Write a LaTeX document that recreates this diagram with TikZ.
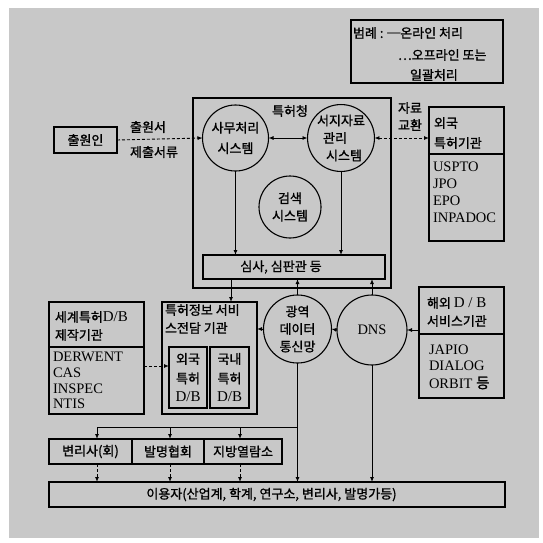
\documentclass[tikz,border=0pt]{standalone}
\usepackage{fontspec}
\setmainfont{Liberation Serif}
\newfontfamily\kr[FakeBold=1.2]{Noto Sans CJK KR}
\usetikzlibrary{arrows.meta,calc}
\definecolor{bgc}{RGB}{200,200,200}
\newcommand{\lat}[1]{{\rmfamily\fontsize{15}{17.5}\selectfont #1}}
\begin{document}
\begin{tikzpicture}[x=1pt,y=-1pt,
  every node/.style={inner sep=0pt,outer sep=0pt},
  box/.style={draw,line width=1.1pt,rectangle},
  circ/.style={draw,line width=1.1pt,circle},
  kt/.style={font=\kr\fontsize{13}{17.5}\selectfont},
  lt/.style={font=\fontsize{14.5}{17}\selectfont},
  link/.style={line width=0.9pt,-{Latex[length=5pt,width=4pt]}},
  dlink/.style={line width=0.9pt,dash pattern=on 3pt off 2pt,-{Latex[length=5pt,width=4pt]}},
  blink/.style={line width=0.9pt,{Latex[length=5pt,width=4pt]}-{Latex[length=5pt,width=4pt]}},
  bdlink/.style={line width=0.9pt,dash pattern=on 3pt off 2pt,{Latex[length=5pt,width=4pt]}-{Latex[length=5pt,width=4pt]}},
  ]
\useasboundingbox (0,0) rectangle (542,543);
\fill[bgc] (9,8) rectangle (539,538);

% legend
\node[box,minimum width=152,minimum height=63] (legend) at (427,51.5) {};
\node[kt,anchor=west] (lg1) at (353,33) {범례 : ─온라인 처리};
\node[kt,anchor=west] (lg2) at (398,55) {…오프라인 또는};
\node[kt,anchor=west] (lg3) at (410,75) {일괄처리};

% patent office
\node[box,minimum width=198,minimum height=190] (office) at (292,193) {};
\node[kt] (officelbl) at (290,111) {특허청};

\node[box,minimum width=63,minimum height=26,kt] (app) at (85.5,140) {출원인};

\node[circ,minimum size=66,kt,align=center] (sa) at (235.5,138) {사무처리\\[3pt]시스템};
\node[circ,minimum size=66,kt,align=left] (seoji) at (341,138) {서지자료\\\hspace*{6pt}관리\\\hspace*{9pt}시스템};
\node[circ,minimum size=62,kt,align=center] (search) at (290,207) {검색\\시스템};

\node[box,minimum width=182,minimum height=24] (exam) at (294,267) {};
\node[kt] (examt) at (281,267) {심사, 심판관 등};

% foreign patent offices
\node[box,minimum width=75,minimum height=47] (forA) at (466.5,130.5) {};
\node[box,minimum width=75,minimum height=87] (forB) at (466.5,197.5) {};
\node[kt,anchor=west] (forA1) at (434,123) {외국};
\node[kt,anchor=west] (forA2) at (434,143) {특허기관};
\node[lt,anchor=west] (forB1) at (433,167) {USPTO};
\node[lt,anchor=west] (forB2) at (433,184) {JPO};
\node[lt,anchor=west] (forB3) at (433,201) {EPO};
\node[lt,anchor=west] (forB4) at (433,218) {INPADOC};

% overseas DB services
\node[box,minimum width=85,minimum height=47] (ovA) at (461.5,310.5) {};
\node[box,minimum width=85,minimum height=64] (ovB) at (461.5,366) {};
\node[kt,anchor=west] (ovA1) at (427,303) {해외 \lat{D / B}};
\node[kt,anchor=west] (ovA2) at (427,321) {서비스기관};
\node[lt,anchor=west] (ovB1) at (429,350) {JAPIO};
\node[lt,anchor=west] (ovB2) at (429,366) {DIALOG};
\node[lt,anchor=west] (ovB3) at (429,383) {ORBIT {\kr 등}};

% world patent DB producers
\node[box,minimum width=95,minimum height=45] (wA) at (96.5,324.5) {};
\node[box,minimum width=95,minimum height=67] (wB) at (96.5,380.5) {};
\node[kt,anchor=west] (wA1) at (55,317) {세계특허\lat{D/B}};
\node[kt,anchor=west] (wA2) at (55,335) {제작기관};
\node[lt,anchor=west] (wB1) at (53,357) {DERWENT};
\node[lt,anchor=west] (wB2) at (53,373) {CAS};
\node[lt,anchor=west] (wB3) at (53,389) {INSPEC};
\node[lt,anchor=west] (wB4) at (53,404) {NTIS};

% patent information service
\node[box,minimum width=95,minimum height=112] (patinfo) at (209.5,358) {};
\node[kt,anchor=west] (pi1) at (165,310) {특허정보 서비};
\node[kt,anchor=west] (pi2) at (165,328) {스전담 기관};
\node[box,minimum width=38,minimum height=61,kt,align=center] (fdb) at (188,377.5) {외국\\[2pt]특허\\[1pt]\lat{D/B}};
\node[box,minimum width=39,minimum height=61,kt,align=center] (ddb) at (229.5,377.5) {국내\\[2pt]특허\\[1pt]\lat{D/B}};

% networks
\node[circ,minimum size=68,kt,align=center] (wide) at (297.5,329) {광역\\데이터\\통신망};
\node[circ,minimum size=70,lt] (dns) at (372,330) {DNS};

% rows
\node[box,minimum width=83,minimum height=25,kt] (r1) at (90.5,451.5) {변리사(회)};
\node[box,minimum width=72,minimum height=25,kt] (r2) at (168,451.5) {발명협회};
\node[box,minimum width=78,minimum height=25,kt] (r3) at (243,451.5) {지방열람소};
\node[box,minimum width=456,minimum height=25] (user) at (277,494.5) {};
\node[kt] (usert) at (271.5,494.5) {이용자(산업계, 학계, 연구소, 변리사, 발명가등)};

% connectors
\draw[dlink] (app.east) -- (sa.west);
\node[kt] (t1) at (148,127) {출원서};
\node[kt] (t2) at (154,152) {제출서류};
\draw[blink] (sa.east) -- (seoji.west);
\draw[bdlink] (seoji.east) -- (seoji.east -| forA.west);
\node[kt] (t3) at (410,108) {자료};
\node[kt] (t4) at (410,125) {교환};

\draw[link] (sa.south) -- (sa.south |- exam.north);
\draw[link] (seoji.south) -- (seoji.south |- exam.north);

\coordinate (c1) at (231,0);
\draw[link] (exam.south -| c1) -- (patinfo.north -| c1);
\draw[link] (wide.north) -- (wide.north |- exam.south);
\draw[link] (dns.north) -- (dns.north |- exam.south);
\draw[link] (wide.west) -- (wide.west -| patinfo.east);
\draw[link] (dns.west) -- (wide.east);
\draw[link] (dns.east -| ovA.west) -- (dns.east);
\coordinate (c2) at (0,366);
\draw[dlink] (wB.east |- c2) -- (fdb.west |- c2);
\draw[link] (wide.south) -- (wide.south |- user.north);
\draw[link] (dns.south) -- (dns.south |- user.north);

\coordinate (br) at (0,427);
\coordinate (x1) at (97,0);
\coordinate (x2) at (170,0);
\coordinate (x3) at (240,0);
\draw[line width=0.9pt] (wide.south |- br) -- (x1 |- br);
\draw[link] (x1 |- br) -- (x1 |- r1.north);
\draw[link] (x2 |- br) -- (x2 |- r2.north);
\draw[link] (x3 |- br) -- (x3 |- r3.north);
\draw[dlink] (x1 |- r1.south) -- (x1 |- user.north);
\draw[dlink] (x2 |- r2.south) -- (x2 |- user.north);
\draw[dlink] (x3 |- r3.south) -- (x3 |- user.north);
\end{tikzpicture}
\end{document}
